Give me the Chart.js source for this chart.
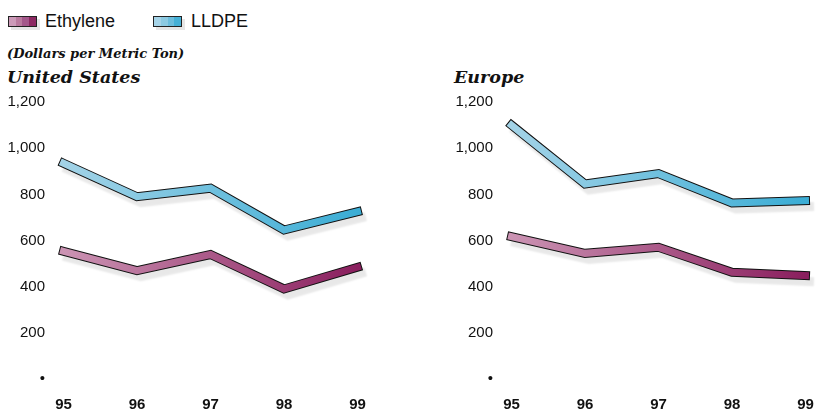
<!DOCTYPE html>
<html>
<head>
<meta charset="utf-8">
<script src="https://cdn.jsdelivr.net/npm/chart.js@4"></script>
<style>
  html, body { margin: 0; padding: 0; background: #fff; }
  body { width: 816px; height: 412px; position: relative; overflow: hidden; font-family: "Liberation Sans", Arial, sans-serif; }
  .abs { position: absolute; white-space: nowrap; }
  .legbox { position: absolute; width: 27px; height: 9px; border: 1px solid #222; box-shadow: 3px 3px 0 #e6e6e6; }
  .legtxt { position: absolute; font-size: 18px; color: #111; line-height: 18px; }
  .serif { font-family: "DejaVu Serif", "Liberation Serif", serif; font-weight: bold; font-style: italic; color: #111; }
  canvas { position: absolute; }
</style>
</head>
<body>
<div class="legbox" style="left:8px;top:16px;background:linear-gradient(90deg,#cc9ab8 0 25%,#b97a9e 25% 50%,#a4578a 50% 75%,#8c2862 75% 100%);"></div>
<div class="legtxt" style="left:45px;top:12px;">Ethylene</div>
<div class="legbox" style="left:153px;top:16px;background:linear-gradient(90deg,#a6d4e8 0 25%,#8ccae2 25% 50%,#6cbddc 50% 75%,#45b0d6 75% 100%);"></div>
<div class="legtxt" style="left:191px;top:12px;">LLDPE</div>

<div class="abs serif" style="left:7px;top:46px;font-size:13px;line-height:16px;">(Dollars per Metric Ton)</div>
<div class="abs serif" style="left:7px;top:67px;font-size:17.5px;line-height:20px;">United States</div>
<div class="abs serif" style="left:454px;top:67px;font-size:17.5px;line-height:20px;">Europe</div>

<div style="position:absolute;left:0;top:92px;width:368px;height:320px;"><canvas id="us"></canvas></div>
<div style="position:absolute;left:448px;top:92px;width:368px;height:320px;"><canvas id="eu"></canvas></div>

<script>
const years = ["95", "96", "97", "98", "99"];
const yTicks = [0, 200, 400, 600, 800, 1000, 1200];
const usEthylene = [554, 470, 540, 391, 485];
const usLLDPE = [935, 790, 827, 646, 725];
const euEthylene = [617, 545, 571, 463, 449];
const euLLDPE = [1100, 845, 890, 763, 773];

const ethColors = ["#cb93b3", "#8a1f5e"];
const lldColors = ["#a3d3e7", "#3badd5"];

function gradient(colors) {
  return function (ctx) {
    const chart = ctx.chart;
    const a = chart.chartArea;
    if (!a) return colors[1];
    const g = chart.ctx.createLinearGradient(a.left, 0, a.right, 0);
    g.addColorStop(0, colors[0]);
    g.addColorStop(1, colors[1]);
    return g;
  };
}

const shadowPlugin = {
  id: 'ribbonShadow',
  beforeDatasetDraw(chart, args) {
    const ds = chart.data.datasets[args.index];
    if (ds._outline) {
      const c = chart.ctx;
      c.save();
      c.shadowColor = 'rgba(0,0,0,0.09)';
      c.shadowOffsetX = 4;
      c.shadowOffsetY = 6;
      c.shadowBlur = 2;
    }
  },
  afterDatasetDraw(chart, args) {
    const ds = chart.data.datasets[args.index];
    if (ds._outline) chart.ctx.restore();
  }
};

function ribbon(data, colors, order) {
  const common = {
    data: data,
    pointRadius: 0,
    pointHoverRadius: 0,
    pointBorderWidth: 0,
    tension: 0,
    borderCapStyle: 'square',
    borderJoinStyle: 'miter',
    clip: false,
    fill: false
  };
  return [
    Object.assign({}, common, { borderColor: gradient(colors), borderWidth: 7, order: order }),
    Object.assign({}, common, { borderColor: '#111', borderWidth: 9, order: order + 10, _outline: true })
  ];
}

function makeChart(id, eth, lld) {
  new Chart(document.getElementById(id), {
    type: 'line',
    data: {
      labels: years,
      datasets: [].concat(ribbon(eth, ethColors, 0), ribbon(lld, lldColors, 1))
    },
    options: {
      responsive: true,
      maintainAspectRatio: false,
      animation: false,
      events: [],
      layout: { autoPadding: false, padding: { top: 10, right: 10.5, left: 0, bottom: 0 } },
      plugins: { legend: { display: false }, tooltip: { enabled: false } },
      scales: {
        x: {
          type: 'category',
          offset: false,
          grid: { display: false, drawTicks: false },
          border: { display: false },
          ticks: {
            color: '#111',
            padding: 17,
            font: { family: "'Liberation Sans', Arial, sans-serif", size: 15, weight: 'bold' },
            maxRotation: 0,
            autoSkip: false
          },
          afterFit(scale) { scale.height = 32.7; scale.paddingLeft = 0; scale.paddingRight = 0; }
        },
        y: {
          min: 0,
          max: 1200,
          afterBuildTicks(scale) { scale.ticks = yTicks.map(v => ({ value: v })); },
          grid: { display: false, drawTicks: false },
          border: { display: false },
          ticks: {
            color: '#111',
            padding: 18.5,
            font: { family: "'Liberation Sans', Arial, sans-serif", size: 15 },
            callback(v) { return v === 0 ? '\u2022' : v.toLocaleString('en-US'); }
          },
          afterFit(scale) { scale.width = 63.5; scale.paddingTop = 0; scale.paddingBottom = 0; }
        }
      }
    },
    plugins: [shadowPlugin]
  });
}

makeChart('us', usEthylene, usLLDPE);
makeChart('eu', euEthylene, euLLDPE);
</script>
</body>
</html>
